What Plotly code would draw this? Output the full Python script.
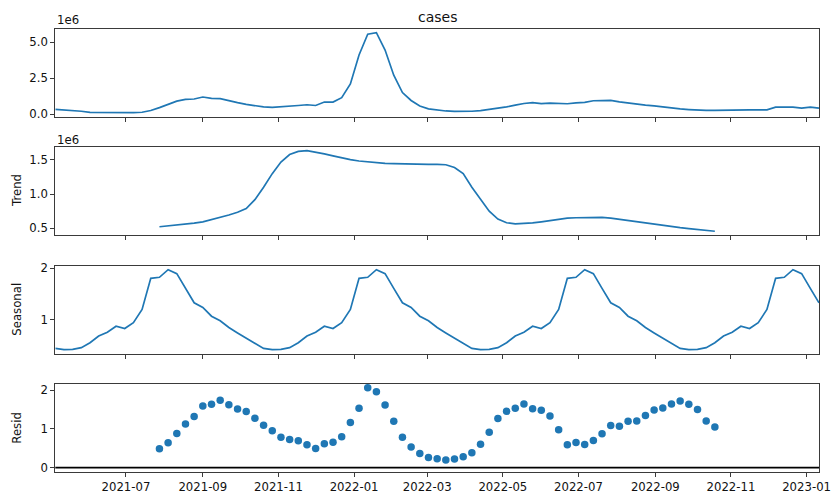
import pandas as pd
import plotly.graph_objects as go

# Weekly series and its multiplicative decomposition (period = 24 weeks)
start_date = "2021-05-05"
n_weeks = 89

cases = [
    330000, 300000, 260000, 200000, 120000, 110000, 100000, 100000, 100000, 110000,
    130000, 250000, 450000, 650000, 900000, 1020000, 1050000, 1190000, 1100000, 1080000,
    920000, 800000, 680000, 580000, 500000, 470000, 500000, 540000, 600000, 650000,
    600000, 840000, 840000, 1140000, 2100000, 4100000, 5550000, 5650000, 4450000, 2700000,
    1500000, 950000, 560000, 370000, 280000, 220000, 190000, 190000, 200000, 250000,
    330000, 400000, 500000, 620000, 740000, 800000, 730000, 760000, 720000, 720000,
    780000, 820000, 930000, 960000, 960000, 850000, 760000, 680000, 620000, 570000,
    490000, 420000, 360000, 320000, 280000, 260000, 260000, 280000, 300000, 300000,
    300000, 300000, 300000, 480000, 490000, 480000, 420000, 490000, 420000,
]

# Trend is defined from week 12 to week 76 (centred moving average)
trend_offset = 12
trend = [
    523000, 535000, 545000, 557000, 575000, 595000, 625000, 660000, 695000, 735000,
    790000, 920000, 1100000, 1300000, 1470000, 1580000, 1625000, 1635000, 1615000, 1590000,
    1560000, 1530000, 1505000, 1485000, 1470000, 1460000, 1450000, 1445000, 1440000, 1440000,
    1436000, 1436000, 1436000, 1430000, 1390000, 1300000, 1100000, 920000, 750000, 635000,
    582000, 565000, 568000, 580000, 595000, 615000, 635000, 648000, 655000, 660000,
    665000, 660000, 648000, 630000, 610000, 592000, 575000, 558000, 540000, 523000,
    510000, 497000, 485000, 470000, 457000,
]

seasonal = [
    0.445, 0.420, 0.425, 0.460, 0.555, 0.685, 0.760, 0.875, 0.830, 0.945, 1.200, 1.805,
    1.825, 1.972, 1.895, 1.610, 1.330, 1.240, 1.070, 0.980, 0.850, 0.745, 0.645, 0.545,
    0.445, 0.420, 0.425, 0.460, 0.555, 0.685, 0.760, 0.875, 0.830, 0.945, 1.200, 1.805,
    1.825, 1.972, 1.895, 1.610, 1.330, 1.240, 1.070, 0.980, 0.850, 0.745, 0.645, 0.545,
    0.445, 0.420, 0.425, 0.460, 0.555, 0.685, 0.760, 0.875, 0.830, 0.945, 1.200, 1.805,
    1.825, 1.972, 1.895, 1.610, 1.330, 1.240, 1.070, 0.980, 0.850, 0.745, 0.645, 0.545,
    0.445, 0.420, 0.425, 0.460, 0.555, 0.685, 0.760, 0.875, 0.830, 0.945, 1.200, 1.805,
    1.825, 1.972, 1.895, 1.610, 1.330,
]

resid = [
    0.487, 0.641, 0.880, 1.128, 1.316, 1.590, 1.632, 1.735, 1.624, 1.513,
    1.445, 1.274, 1.094, 0.949, 0.786, 0.726, 0.692, 0.590, 0.496, 0.615,
    0.658, 0.795, 1.162, 1.530, 2.060, 1.957, 1.615, 1.197, 0.786, 0.530,
    0.367, 0.265, 0.230, 0.197, 0.222, 0.282, 0.385, 0.607, 0.915, 1.265,
    1.453, 1.530, 1.641, 1.521, 1.480, 1.333, 0.974, 0.590, 0.650, 0.598,
    0.701, 0.872, 1.085, 1.068, 1.197, 1.205, 1.342, 1.487, 1.538, 1.641,
    1.718, 1.632, 1.496, 1.205, 1.051,
]

panel_titles = ["", "Trend", "Seasonal", "Resid"]
cases_ticks = [0, 2.5e6, 5e6]
cases_ticktext = ["0.0", "2.5", "5.0"]
trend_ticks = [0.5e6, 1.0e6, 1.5e6]
trend_ticktext = ["0.5", "1.0", "1.5"]
seasonal_ticks = [1, 2]
resid_ticks = [0, 1, 2]

dates = pd.date_range(start_date, periods=n_weeks, freq="7D")
trend_dates = dates[trend_offset:trend_offset + len(trend)]
resid_dates = dates[trend_offset:trend_offset + len(resid)]

W, H = 831, 494
BLUE = "#1f77b4"
FONT = "DejaVu Sans"
SPINE = "#3a3a3a"

# pixel boxes of the four panels (left, right, top, bottom)
x_left, x_right = 55.3, 819.0
panel_px = [(28.7, 116.7), (146.7, 235.3), (265.7, 353.7), (383.7, 471.7)]


def ydom(top, bottom):
    return [1 - bottom / H, 1 - top / H]


def padded(lo, hi, frac=0.05):
    span = hi - lo
    return [lo - frac * span, hi + frac * span]


fig = go.Figure()
fig.add_trace(go.Scatter(x=dates, y=cases, mode="lines",
                         line=dict(color=BLUE, width=1.7), xaxis="x", yaxis="y"))
fig.add_trace(go.Scatter(x=trend_dates, y=trend, mode="lines",
                         line=dict(color=BLUE, width=1.7), xaxis="x2", yaxis="y2"))
fig.add_trace(go.Scatter(x=dates, y=seasonal, mode="lines",
                         line=dict(color=BLUE, width=1.7), xaxis="x3", yaxis="y3"))
fig.add_trace(go.Scatter(x=resid_dates, y=resid, mode="markers",
                         marker=dict(color=BLUE, size=7.5), xaxis="x4", yaxis="y4"))

xrange = [dates[0], dates[-1]]
common_x = dict(
    range=xrange, showgrid=False, zeroline=False, showline=True, mirror=True,
    linecolor=SPINE, linewidth=1, ticks="outside", ticklen=4, tickwidth=1,
    tickcolor=SPINE, tick0="2021-07-01", dtick="M2", tickformat="%Y-%m",
    tickfont=dict(family=FONT, size=11.7, color="#111"),
    ticklabeloverflow="allow",
    domain=[x_left / W, x_right / W], automargin=False,
)
common_y = dict(
    showgrid=False, zeroline=False, showline=True, mirror=True,
    linecolor=SPINE, linewidth=1, ticks="outside", ticklen=4, tickwidth=1,
    tickcolor=SPINE, tickfont=dict(family=FONT, size=11.7, color="#111"),
    automargin=False,
)

layout = dict(
    width=W, height=H, margin=dict(l=0, r=0, t=0, b=0),
    paper_bgcolor="white", plot_bgcolor="white", showlegend=False,
    template="none",
)
y_ranges = [
    padded(min(cases), max(cases)),
    padded(min(trend), max(trend)),
    padded(min(seasonal), max(seasonal)),
    padded(min(0, min(resid)), max(resid)),
]
y_ticks = [
    dict(tickvals=cases_ticks, ticktext=cases_ticktext),
    dict(tickvals=trend_ticks, ticktext=trend_ticktext),
    dict(tickvals=seasonal_ticks),
    dict(tickvals=resid_ticks),
]
for i in range(4):
    sx = "" if i == 0 else str(i + 1)
    top, bottom = panel_px[i]
    xa = dict(common_x)
    xa["anchor"] = "y" + sx
    xa["showticklabels"] = (i == 3)
    if i > 0:
        xa["matches"] = "x"
    ya = dict(common_y)
    ya.update(y_ticks[i])
    ya["anchor"] = "x" + sx
    ya["domain"] = ydom(top, bottom)
    ya["range"] = y_ranges[i]
    layout["xaxis" + sx] = xa
    layout["yaxis" + sx] = ya

fig.update_layout(**layout)

# zero reference line under the residual markers
fig.add_shape(type="line", xref="x4 domain", yref="y4", x0=0, x1=1, y0=0, y1=0,
              line=dict(color="black", width=1.8), layer="below")

annotations = []
# figure title
annotations.append(dict(text="cases", x=(x_left + x_right) / 2 / W, y=1 - 17 / H,
                        xref="paper", yref="paper", showarrow=False,
                        font=dict(family=FONT, size=14, color="#111"),
                        xanchor="center", yanchor="middle"))
# scale offset labels
for yc in (20.5, 140.0):
    annotations.append(dict(text="1e6", x=x_left / W, y=1 - yc / H,
                            xref="paper", yref="paper", showarrow=False,
                            font=dict(family=FONT, size=11.7, color="#111"),
                            xanchor="left", yanchor="middle"))
# panel y-axis titles
for i, name in enumerate(panel_titles):
    if not name:
        continue
    top, bottom = panel_px[i]
    annotations.append(dict(text=name, x=17 / W, y=1 - (top + bottom) / 2 / H,
                            xref="paper", yref="paper", showarrow=False,
                            textangle=-90,
                            font=dict(family=FONT, size=11.7, color="#111"),
                            xanchor="center", yanchor="middle"))
fig.update_layout(annotations=annotations)

fig.write_html("out.html")
